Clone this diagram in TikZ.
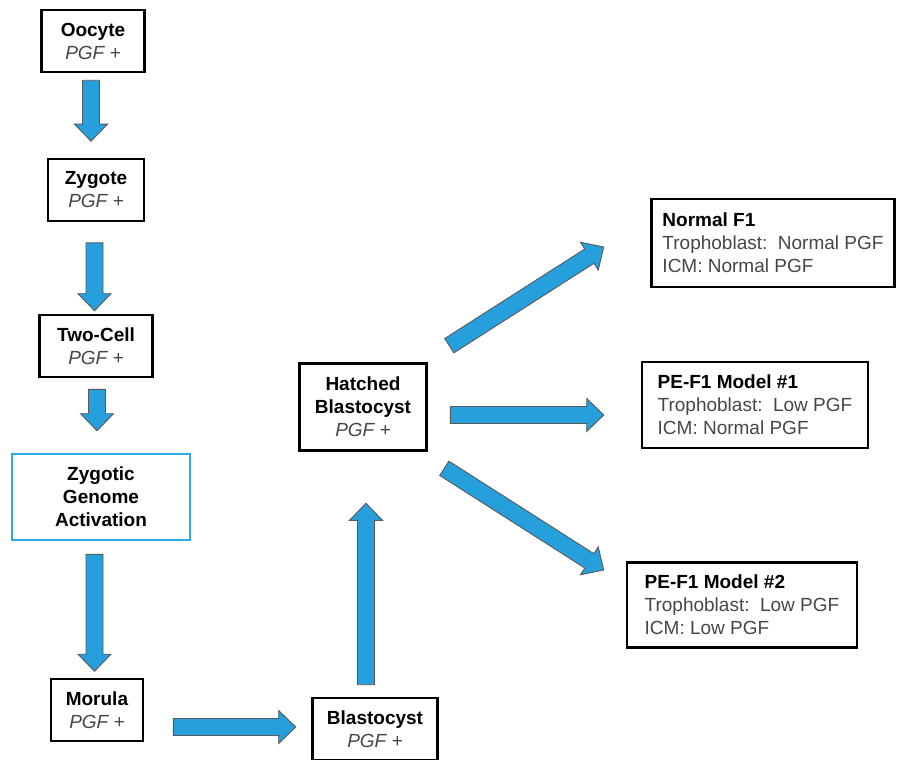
\documentclass[tikz,border=0pt]{standalone}
\usepackage{fontspec}
\setmainfont{Liberation Sans}
\usetikzlibrary{positioning, calc}
\definecolor{arrowblue}{RGB}{38,160,220}
\definecolor{zgablue}{RGB}{45,170,226}
\definecolor{textgray}{RGB}{70,70,70}
\newcommand{\plusPGF}{{\color{textgray}\itshape PGF +}}
% block arrow from point #1 to point #2
\newcommand{\fatarrow}[2]{%
  \filldraw[fatarrow] let \p1=(#1), \p2=(#2),
      \n1={atan2(\y2-\y1,\x2-\x1)}, \n2={veclen(\x2-\x1,\y2-\y1)} in
    [rotate around={\n1:(\p1)}]
    (\x1,\y1+8.5pt) -- (\x1+\n2-17pt,\y1+8.5pt) -- (\x1+\n2-17pt,\y1+16.5pt)
    -- (\x1+\n2,\y1) -- (\x1+\n2-17pt,\y1-16.5pt) -- (\x1+\n2-17pt,\y1-8.5pt)
    -- (\x1,\y1-8.5pt) -- cycle;}
\tikzset{
stage/.style={draw, line width=2.6pt, align=center, inner sep=0pt, minimum height=62,
  font=\fontsize{19}{23}\selectfont}, % boxes of the left column
result/.style={stage, align=left, minimum height=86}, % boxes on the right
fatarrow/.style={fill=arrowblue, draw=black!65, line width=0.9pt, line join=miter},
}

\begin{document}
\begin{tikzpicture}[x=1pt, y=-1pt]
    \useasboundingbox (0,0) rectangle (898,760);
    \node[stage, minimum width=103] (oocyte) at (93,41) {\textbf{Oocyte}\\\plusPGF};
    \node[stage, minimum width=96] (zygote) at (96,190) {\textbf{Zygote}\\\plusPGF};
    \node[stage, minimum width=113] (twocell) at (96,346) {\textbf{Two-Cell}\\\plusPGF};
    \node[stage, draw=zgablue, minimum width=178, minimum height=86] (zga) at (101,497)
        {\textbf{Zygotic}\\\textbf{Genome}\\\textbf{Activation}};
    \node[stage, minimum width=92] (morula) at (97,710) {\textbf{Morula}\\\plusPGF};
    \node[stage, minimum width=125] (blasto) at (375,729) {\textbf{Blastocyst}\\\plusPGF};
    \node[stage, minimum width=127, minimum height=87] (hatched) at (363,407)
        {\textbf{Hatched}\\\textbf{Blastocyst}\\\plusPGF};
    \node[result, minimum width=243, minimum height=88] (normal) at (773,243)
        {\textbf{Normal F1}\\{\color{textgray}Trophoblast:~~Normal PGF}\\{\color{textgray}ICM:~Normal PGF}};
    \node[result, minimum width=226] (model1) at (755,405)
        {\textbf{PE-F1 Model \#1}\\{\color{textgray}Trophoblast:~~Low PGF}\\{\color{textgray}ICM:~Normal PGF}};
    \node[result, minimum width=230, minimum height=85] (model2) at (742,605)
        {\textbf{PE-F1 Model \#2}\\{\color{textgray}Trophoblast:~~Low PGF}\\{\color{textgray}ICM:~Low PGF}};

    \fatarrow{$(oocyte.south)+(-2,7)$}{$(zygote.north)+(-5,-16.5)$}
    \fatarrow{$(zygote.south)+(-1.5,20.5)$}{$(twocell.north)+(-1.5,-3)$}
    \fatarrow{$(twocell.south)+(1,11)$}{$(zga.north)+(-4,-22)$}
    \fatarrow{$(zga.south)+(-6.5,13)$}{$(morula.north)+(-2.5,-6.5)$}
    \fatarrow{$(morula.east)+(29,17)$}{$(blasto.west)+(-15.5,-2)$}
    \fatarrow{$(blasto.north)+(-9,-12)$}{$(hatched.south)+(3,51.5)$}
    \fatarrow{$(hatched.north east)+(21.5,-16.5)$}{$(normal.west)+(-46.5,4)$}
    \fatarrow{$(hatched.east)+(22.5,8)$}{$(model1.west)+(-37,10)$}
    \fatarrow{$(hatched.south east)+(16.5,16.5)$}{$(model2.west)+(-22,-35)$}
\end{tikzpicture}
\end{document}
